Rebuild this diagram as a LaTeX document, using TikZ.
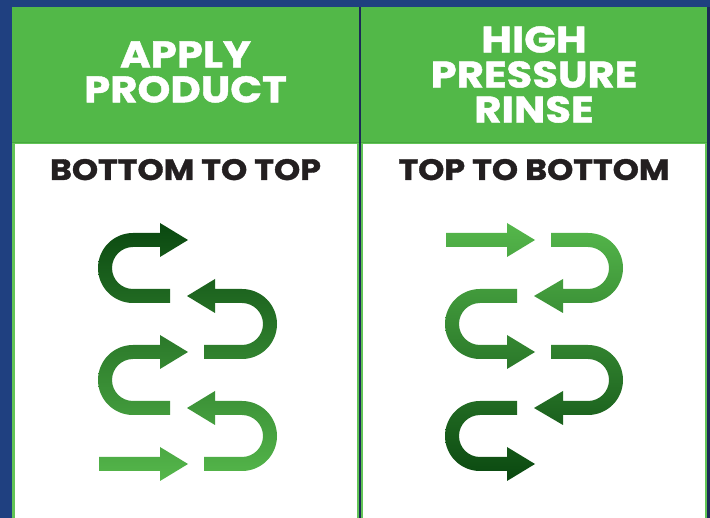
\documentclass[tikz,border=0pt]{standalone}
\usepackage{fontspec}
\setmainfont{Poppins}
\newfontfamily\headfont{Poppins}[FakeStretch=1.13, BoldFeatures={FakeBold=1.2}]
\definecolor{bgblue}{HTML}{1F4080}
\definecolor{navy}{HTML}{1B2A57}
\definecolor{headgreen}{HTML}{52B848}
\definecolor{rimgreen}{HTML}{62C456}
\definecolor{seamgreen}{HTML}{46A83E}
\definecolor{darkgreen}{HTML}{0A4810}
\definecolor{lightgreen}{HTML}{55B74B}
\definecolor{inkblack}{HTML}{231F20}
\tikzset{
  heading/.style={text=white, font=\headfont\bfseries\fontsize{37}{35}\selectfont, align=center, inner sep=0pt},
  subheading/.style={text=inkblack, font=\headfont\bfseries\fontsize{29.5}{30}\selectfont, inner sep=0pt, anchor=base},
  snakes/.style={draw=none}
}

\begin{document}
\begin{tikzpicture}[x=1pt, y=-1pt]
% Frame
    \fill[bgblue] (0,0) rectangle (710,518);
    \fill[navy] (358,7) rectangle (362,518);
    \fill[navy] (706,7) rectangle (710,518);
% Left panel
    \fill[rimgreen] (12,7) rectangle (359,518);
    \fill[headgreen] (12,7) rectangle (359,142);
    \draw[seamgreen, line width=1.5pt] (12,142.5) -- (359,142.5);
    \fill[white] (15,144) rectangle (357,518);
% Right panel
    \fill[rimgreen] (361,7) rectangle (707,518);
    \fill[headgreen] (361,7) rectangle (707,142);
    \draw[seamgreen, line width=1.5pt] (361,142.5) -- (707,142.5);
    \fill[white] (363,144) rectangle (705,518);
% Titles
    \node[heading] (applytitle) at (185.5,72) {APPLY\\PRODUCT};
    \node[heading] (rinsetitle) at (534,74.5) {HIGH\\PRESSURE\\RINSE};
    \node[subheading] (bottomtotop) at (185.5,180) {BOTTOM TO TOP};
    \node[subheading] (toptobottom) at (534,180) {TOP TO BOTTOM};
% Bottom to top arrows
    \shade[snakes, top color=darkgreen, bottom color=lightgreen]
        (170,289) -- (170,303) -- (133,303) arc[start angle=90, end angle=270, radius=35]
            -- (160,233) -- (160,223) -- (188,240) -- (160,257) -- (160,247)
            -- (133,247) arc[start angle=270, end angle=90, radius=21] -- cycle
        (204,359) -- (242,359) arc[start angle=90, end angle=-90, radius=35]
            -- (215,289) -- (215,279) -- (187,296) -- (215,313) -- (215,303)
            -- (242,303) arc[start angle=-90, end angle=90, radius=21] -- (204,345) -- cycle
        (170,401) -- (170,415) -- (133,415) arc[start angle=90, end angle=270, radius=35]
            -- (160,345) -- (160,335) -- (188,352) -- (160,369) -- (160,359)
            -- (133,359) arc[start angle=270, end angle=90, radius=21] -- cycle
        (204,471) -- (242,471) arc[start angle=90, end angle=-90, radius=35]
            -- (215,401) -- (215,391) -- (187,408) -- (215,425) -- (215,415)
            -- (242,415) arc[start angle=-90, end angle=90, radius=21] -- (204,457) -- cycle
        (99,457) -- (160,457) -- (160,447) -- (188,464) -- (160,481) -- (160,471) -- (99,471) -- cycle;
% Top to bottom arrows
    \shade[snakes, top color=lightgreen, bottom color=darkgreen]
        (446,233) -- (507,233) -- (507,223) -- (535,240) -- (507,257) -- (507,247) -- (446,247) -- cycle
        (551,233) -- (588,233) arc[start angle=-90, end angle=90, radius=35]
            -- (563,303) -- (563,313) -- (534,296) -- (563,279) -- (563,289)
            -- (588,289) arc[start angle=90, end angle=-90, radius=21] -- (551,247) -- cycle
        (517,289) -- (480,289) arc[start angle=-90, end angle=-270, radius=35]
            -- (507,359) -- (507,369) -- (535,352) -- (507,335) -- (507,345)
            -- (480,345) arc[start angle=90, end angle=270, radius=21] -- (517,303) -- cycle
        (551,345) -- (588,345) arc[start angle=-90, end angle=90, radius=35]
            -- (563,415) -- (563,425) -- (534,408) -- (563,391) -- (563,401)
            -- (588,401) arc[start angle=90, end angle=-90, radius=21] -- (551,359) -- cycle
        (517,401) -- (480,401) arc[start angle=-90, end angle=-270, radius=35]
            -- (507,471) -- (507,481) -- (535,464) -- (507,447) -- (507,457)
            -- (480,457) arc[start angle=90, end angle=270, radius=21] -- (517,415) -- cycle;
\end{tikzpicture}
\end{document}
